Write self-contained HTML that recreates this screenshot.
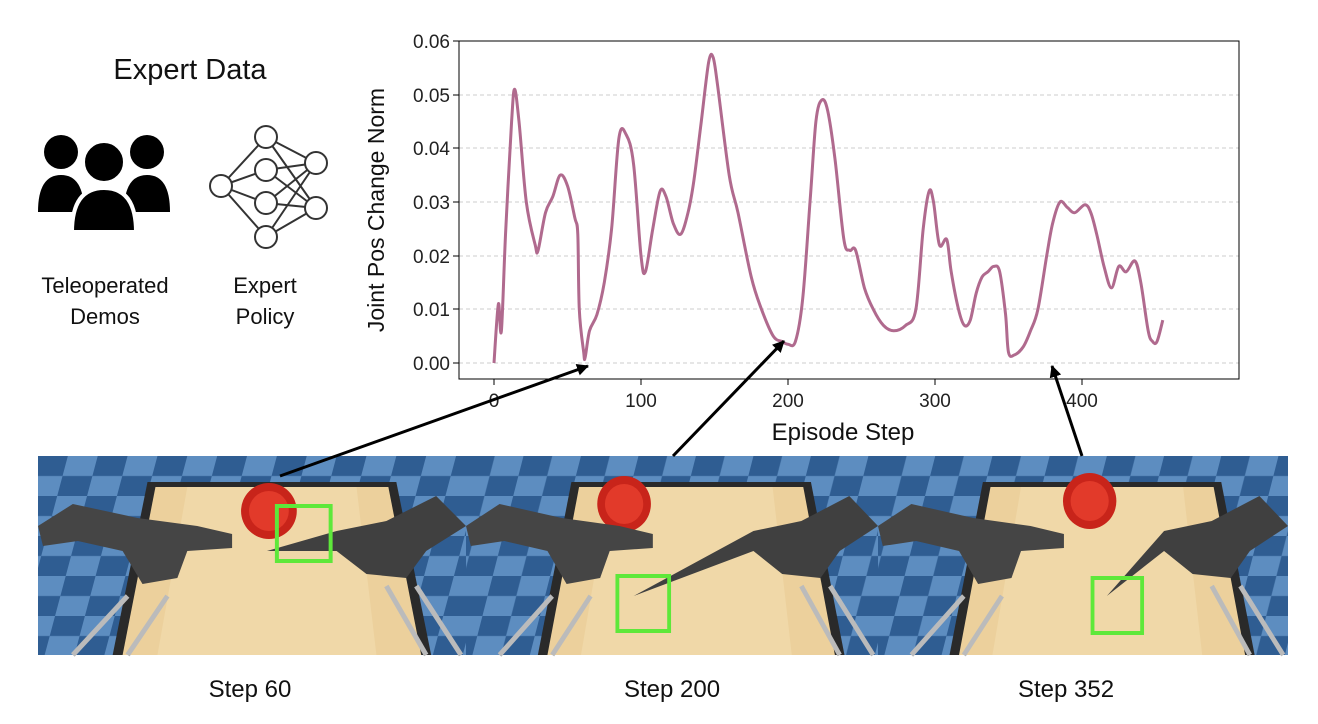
<!DOCTYPE html><html><head><style>
body{margin:0;background:#fff;width:1318px;height:724px;position:relative;overflow:hidden;font-family:"Liberation Sans",sans-serif}
.t{position:absolute;color:#111;text-align:center}
</style></head><body>
<div class="t" style="left:80px;top:54px;width:220px;font-size:29px">Expert Data</div>
<div class="t" style="left:20px;top:270px;width:170px;font-size:22px;line-height:31px">Teleoperated<br>Demos</div>
<div class="t" style="left:205px;top:270px;width:120px;font-size:22px;line-height:31px">Expert<br>Policy</div>
<div class="t" style="left:150px;top:676px;width:200px;font-size:24px">Step 60</div>
<div class="t" style="left:572px;top:676px;width:200px;font-size:24px">Step 200</div>
<div class="t" style="left:966px;top:676px;width:200px;font-size:24px">Step 352</div>
<svg width="1318" height="724" style="position:absolute;left:0;top:0">
<defs>
<pattern id="chk" width="60" height="40" patternUnits="userSpaceOnUse" patternTransform="skewX(-15)">
<rect width="60" height="40" fill="#5d8dc0"/><rect width="30" height="20" fill="#2f5d92"/><rect x="30" y="20" width="30" height="20" fill="#2f5d92"/>
</pattern>
<marker id="ah" markerWidth="12" markerHeight="12" refX="11" refY="6" orient="auto" markerUnits="userSpaceOnUse"><path d="M0,0 L12,6 L0,12 z" fill="#000"/></marker>
</defs>
<g fill="#000">
<circle cx="61" cy="152" r="17"/><circle cx="147" cy="152" r="17"/>
<path d="M38,212 Q38,175 61,175 Q84,175 84,212 z"/><path d="M124,212 Q124,175 147,175 Q170,175 170,212 z"/>
<circle cx="104" cy="162" r="21" stroke="#fff" stroke-width="4"/>
<path d="M72,232 Q72,188 104,188 Q136,188 136,232 z" stroke="#fff" stroke-width="4"/>
</g>
<g stroke="#333" stroke-width="2" fill="#fff">
<path d="M221,186 L266,137 M221,186 L266,170 M221,186 L266,203 M221,186 L266,237 M266,137 L316,163 M266,170 L316,163 M266,203 L316,163 M266,237 L316,163 M266,137 L316,208 M266,170 L316,208 M266,203 L316,208 M266,237 L316,208" fill="none"/>
<circle cx="221" cy="186" r="11"/><circle cx="266" cy="137" r="11"/><circle cx="266" cy="170" r="11"/><circle cx="266" cy="203" r="11"/><circle cx="266" cy="237" r="11"/><circle cx="316" cy="163" r="11"/><circle cx="316" cy="208" r="11"/>
</g>
<g stroke="#ccc" stroke-dasharray="4,3" stroke-width="1">
<line x1="459" x2="1239" y1="309" y2="309"/><line x1="459" x2="1239" y1="256" y2="256"/><line x1="459" x2="1239" y1="202" y2="202"/><line x1="459" x2="1239" y1="148" y2="148"/><line x1="459" x2="1239" y1="95" y2="95"/><line x1="459" x2="1239" y1="363" y2="363"/>
</g>
<rect x="459" y="41" width="780" height="338" fill="none" stroke="#000" stroke-width="1"/>
<g font-size="19" fill="#222" text-anchor="end">
<text x="450" y="370">0.00</text><text x="450" y="316">0.01</text><text x="450" y="263">0.02</text><text x="450" y="209">0.03</text><text x="450" y="155">0.04</text><text x="450" y="102">0.05</text><text x="450" y="48">0.06</text>
</g>
<g stroke="#000"><line x1="453" x2="459" y1="363" y2="363"/><line x1="453" x2="459" y1="309" y2="309"/><line x1="453" x2="459" y1="256" y2="256"/><line x1="453" x2="459" y1="202" y2="202"/><line x1="453" x2="459" y1="148" y2="148"/><line x1="453" x2="459" y1="95" y2="95"/><line x1="453" x2="459" y1="41" y2="41"/>
<line x1="494" x2="494" y1="379" y2="385"/><line x1="641" x2="641" y1="379" y2="385"/><line x1="788" x2="788" y1="379" y2="385"/><line x1="935" x2="935" y1="379" y2="385"/><line x1="1082" x2="1082" y1="379" y2="385"/></g>
<g font-size="19" fill="#222" text-anchor="middle">
<text x="494" y="407">0</text><text x="641" y="407">100</text><text x="788" y="407">200</text><text x="935" y="407">300</text><text x="1082" y="407">400</text>
</g>
<text x="843" y="440" font-size="24" text-anchor="middle" fill="#111">Episode Step</text>
<text transform="translate(384,210) rotate(-90)" font-size="23" text-anchor="middle" fill="#111">Joint Pos Change Norm</text>
<path id="curve" fill="none" stroke="#b06a8e" stroke-width="3" stroke-linejoin="round"/>
<g id="panels"></g>
<g stroke="#000" stroke-width="3" marker-end="url(#ah)">
<line x1="280" y1="476" x2="588" y2="366"/>
<line x1="673" y1="456" x2="784" y2="341"/>
<line x1="1082" y1="456" x2="1052" y2="366"/>
</g>
</svg>
<script>
var d=[[0,0],[3,.011],[5,.006],[8,.025],[12,.045],[14,.051],[17,.045],[22,.03],[28,.022],[30,.021],[35,.028],[40,.031],[45,.035],[50,.033],[55,.027],[57,.024],[58,.01],[61,.002],[62,.001],[65,.006],[70,.009],[75,.015],[80,.025],[85,.042],[90,.0425],[95,.037],[100,.02],[103,.017],[108,.025],[113,.032],[117,.031],[122,.026],[127,.024],[132,.028],[136,.034],[141,.045],[146,.056],[149,.057],[152,.052],[160,.035],[166,.028],[175,.016],[182,.01],[190,.005],[196,.004],[200,.0035],[205,.004],[210,.012],[215,.03],[219,.045],[223,.049],[227,.047],[232,.038],[238,.023],[242,.021],[246,.021],[252,.014],[258,.01],[265,.007],[272,.006],[280,.007],[287,.01],[292,.025],[296,.032],[299,.03],[303,.022],[308,.023],[311,.017],[316,.01],[320,.007],[324,.008],[328,.013],[332,.016],[336,.017],[340,.018],[344,.017],[348,.009],[350,.002],[354,.0015],[360,.003],[365,.006],[370,.01],[376,.02],[380,.026],[385,.03],[390,.029],[395,.028],[402,.0295],[406,.028],[410,.024],[415,.018],[420,.014],[425,.018],[430,.017],[436,.019],[440,.015],[445,.006],[448,.004],[451,.004],[455,.008]];
var pts=d.map(function(p){return [494+p[0]*1.47,363-p[1]*5367]});
var s='M'+pts[0][0].toFixed(1)+','+pts[0][1].toFixed(1);
for(var i=0;i<pts.length-1;i++){var p0=pts[i-1]||pts[i],p1=pts[i],p2=pts[i+1],p3=pts[i+2]||p2;
s+=' C'+(p1[0]+(p2[0]-p0[0])/6).toFixed(1)+','+(p1[1]+(p2[1]-p0[1])/6).toFixed(1)+' '+(p2[0]-(p3[0]-p1[0])/6).toFixed(1)+','+(p2[1]-(p3[1]-p1[1])/6).toFixed(1)+' '+p2[0].toFixed(1)+','+p2[1].toFixed(1);}
document.getElementById('curve').setAttribute('d',s);
var P=[[38,428,[232,55],[240,50,54,55],[230,95]],[466,412,[165,48],[158,120,54,55],[175,140]],[878,410,[222,45],[225,122,52,55],[240,140]]];
var h='';
P.forEach(function(p){var x=p[0],w=p[1],sc=w/430;
h+='<g transform="translate('+x+',456) scale('+sc+',1)">';
h+='<rect width="430" height="199" fill="url(#chk)"/>';
h+='<polygon points="110,26 360,26 395,199 75,199" fill="#2a2a2a"/>';
h+='<polygon points="118,31 352,31 385,199 85,199" fill="#ecd09c"/>';
h+='<polygon points="150,31 320,31 340,199 120,199" fill="#f0d8a8"/>';
h+='<circle cx="'+p[2][0]+'" cy="'+p[2][1]+'" r="28" fill="#c8241a"/><circle cx="'+p[2][0]+'" cy="'+p[2][1]+'" r="20" fill="#e23a2a"/>';
h+='<polygon points="0,70 35,48 100,62 160,70 195,78 195,92 150,95 140,122 105,128 85,95 40,85 5,90" fill="#454545"/>';
h+='<polygon points="430,70 400,40 350,65 300,75 '+p[4][0]+','+p[4][1]+' 300,95 330,118 370,122 390,95" fill="#404040"/>';
h+='<line x1="90" y1="140" x2="35" y2="199" stroke="#bbb" stroke-width="5"/><line x1="130" y1="140" x2="90" y2="199" stroke="#bbb" stroke-width="5"/>';
h+='<line x1="350" y1="130" x2="390" y2="199" stroke="#bbb" stroke-width="5"/><line x1="380" y1="130" x2="425" y2="199" stroke="#bbb" stroke-width="5"/>';
h+='<rect x="'+p[3][0]+'" y="'+p[3][1]+'" width="'+p[3][2]+'" height="'+p[3][3]+'" fill="none" stroke="#5ee83a" stroke-width="4"/>';
h+='</g>';});
document.getElementById('panels').innerHTML=h;
</script>
</body></html>
